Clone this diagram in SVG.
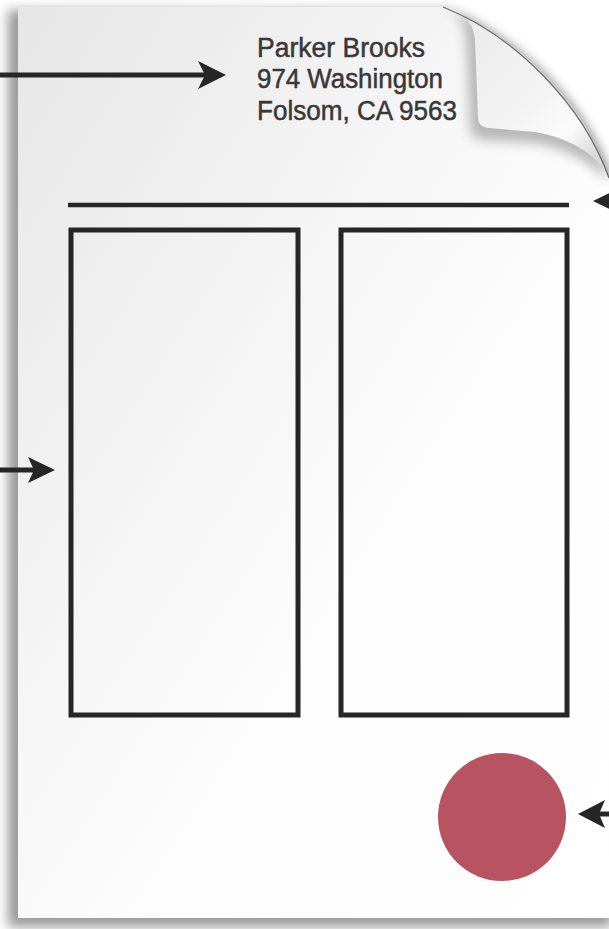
<svg xmlns="http://www.w3.org/2000/svg" width="609" height="929" viewBox="0 0 609 929">
  <defs>
    <linearGradient id="pageGrad" x1="0" y1="0" x2="1" y2="1">
      <stop offset="0" stop-color="#e6e6e6"/>
      <stop offset="0.35" stop-color="#f4f4f4"/>
      <stop offset="0.6" stop-color="#fdfdfd"/>
      <stop offset="1" stop-color="#ffffff"/>
    </linearGradient>
    <linearGradient id="flapGrad" x1="475" y1="30" x2="600" y2="150" gradientUnits="userSpaceOnUse">
      <stop offset="0" stop-color="#ececec"/>
      <stop offset="0.5" stop-color="#f3f3f3"/>
      <stop offset="0.8" stop-color="#fbfbfb"/>
      <stop offset="1" stop-color="#d8d8d8"/>
    </linearGradient>
    <filter id="blur6" x="-20%" y="-20%" width="140%" height="140%">
      <feGaussianBlur stdDeviation="6"/>
    </filter>
    <style>
      .box { fill: none; stroke: #262626; stroke-width: 5; }
      .conn line { stroke: #262626; stroke-width: 5; }
      .conn path { fill: #262626; }
      .addr { font-family: "Liberation Sans", Arial, sans-serif; font-size: 27px; fill: #383838; stroke: #383838; stroke-width: 0.5; }
    </style>
  </defs>

  <rect width="609" height="929" fill="#ffffff"/>

  <!-- page shadow -->
  <path d="M8,10 L443,10 C515,38 585,103 612,181 L612,927 L8,927 Z" fill="#9a9a9a" filter="url(#blur6)"/>

  <!-- page -->
  <g id="page">
    <path d="M18,7 L443,7 C515,35 585,100 609,178 L609,918 L18,918 Z" fill="url(#pageGrad)"/>
    <path d="M440,7 C458,12 466,24 467,44 L470,128 Q472,140 486,140 L535,143 Q578,150 607,180 L609,178 C585,100 515,35 443,7 Z" fill="#8a8a8a" opacity="0.6" filter="url(#blur6)"/>
    <path d="M443,7 C462,9 473,20 475,40 L478,119 Q479,127 488,128 L535,132 Q578,139 604,168 C583,105 516,36 443,7 Z" fill="url(#flapGrad)"/>
    <path d="M443,7 C516,36 583,105 609,178" fill="none" stroke="#4a4a4a" stroke-width="1.2" opacity="0.8"/>
  </g>

  <g id="address">
    <text class="addr" x="257" y="57" textLength="168" lengthAdjust="spacingAndGlyphs">Parker Brooks</text>
    <text class="addr" x="257" y="88" textLength="186" lengthAdjust="spacingAndGlyphs">974 Washington</text>
    <text class="addr" x="257" y="120" textLength="200" lengthAdjust="spacingAndGlyphs">Folsom, CA 9563</text>
  </g>

  <g id="header-line">
    <line x1="68" y1="205" x2="569" y2="205" stroke="#262626" stroke-width="4.5"/>
  </g>

  <g id="left-column">
    <rect class="box" x="71" y="230" width="227" height="485"/>
  </g>

  <g id="right-column">
    <rect class="box" x="341" y="230" width="226" height="485"/>
  </g>

  <g id="seal">
    <circle cx="502" cy="817" r="64" fill="#b85361"/>
  </g>

  <g id="connectors" class="conn">
    <line x1="0" y1="75" x2="206" y2="75"/>
    <path d="M226,75 L198,61 L205,75 L198,89 Z"/>
    <line x1="0" y1="470" x2="36" y2="470"/>
    <path d="M55,470 L28,457 L34,470 L28,483 Z"/>
    <path d="M593,201 L620,188 L614,201 L620,214 Z"/>
    <line x1="598" y1="814" x2="609" y2="814"/>
    <path d="M578,814 L605,800 L599,814 L605,828 Z"/>
  </g>
</svg>
